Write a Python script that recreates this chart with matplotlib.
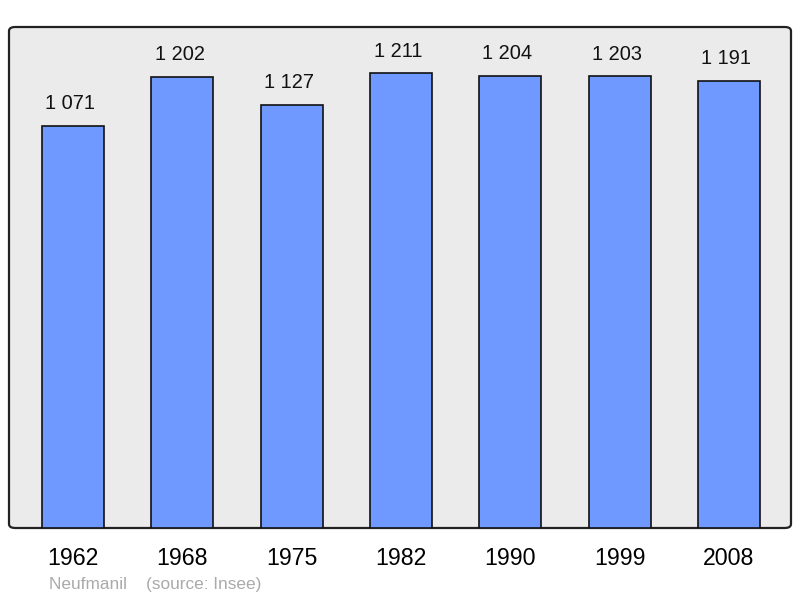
import matplotlib.pyplot as plt
from matplotlib.patches import FancyBboxPatch

plt.rcParams['font.family'] = ['Liberation Sans', 'DejaVu Sans']

# census years and population
years = ['1962', '1968', '1975', '1982', '1990', '1999', '2008']
population = [1071, 1202, 1127, 1211, 1204, 1203, 1191]
labels = ['1 071', '1 202', '1 127', '1 211', '1 204', '1 203', '1 191']

fig = plt.figure(figsize=(8, 5.98), dpi=100)
ax = fig.add_axes([9 / 800, 70 / 598, 782 / 800, 501 / 598])

# grey panel with slightly rounded corners
ax.patch.set_visible(False)
panel = FancyBboxPatch((0, 0), 1, 1, boxstyle='round,pad=0,rounding_size=0.008',
                       transform=ax.transAxes, facecolor='#ebebeb',
                       edgecolor='#222222', linewidth=1.6, zorder=0,
                       clip_on=False)
ax.add_patch(panel)

x = range(len(years))
bars = ax.bar(x, population, width=0.567, color='#7099ff',
              edgecolor='#111111', linewidth=1.2, zorder=2)

for xi, val, lab in zip(x, population, labels):
    ax.annotate(lab, (xi, val), xytext=(-2, 9), textcoords='offset points',
                ha='center', va='bottom', fontsize=14.4, color='#111111')

ax.set_xlim(-0.585, 6.567)
ax.set_ylim(0, 1334)
ax.set_yticks([])
ax.set_xticks(list(x))
ax.set_xticklabels(years, fontsize=16.7)
ax.tick_params(axis='x', length=0, pad=14)
for s in ax.spines.values():
    s.set_visible(False)

fig.text(49 / 800, 1 - 584 / 598, 'Neufmanil    (source: Insee)',
         fontsize=12.4, color='#aaaaaa', va='center', ha='left')

fig.savefig('out.png', dpi=100)
